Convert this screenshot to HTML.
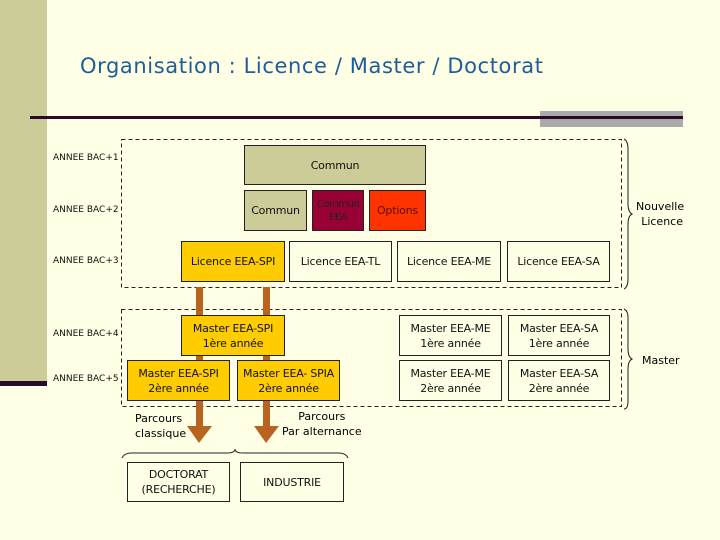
<!DOCTYPE html>
<html><head><meta charset="utf-8"><style>
body{margin:0;width:720px;height:540px;background:#ffffe5;position:relative;overflow:hidden;font-family:"DejaVu Sans","Liberation Sans",sans-serif;}
.a{position:absolute}
.b{position:absolute;box-sizing:border-box;border:1px solid #222;display:flex;align-items:center;justify-content:center;text-align:center;font-size:11px;line-height:15px;color:#111;letter-spacing:-0.2px}
.l{position:absolute;left:53px;font-size:9px;color:#111}
</style></head><body>
<div class="a" style="left:0;top:0;width:47px;height:381px;background:#cccc99"></div>
<div class="a" style="left:0;top:381px;width:47px;height:5px;background:#2a0a2a"></div>
<div class="a" style="left:80px;top:54px;font-size:21px;color:#1f5c99;font-family:'DejaVu Sans',sans-serif;letter-spacing:0.6px;white-space:nowrap">Organisation : Licence / Master / Doctorat</div>
<div class="a" style="left:540px;top:111px;width:143px;height:16px;background:#aaaaaa"></div>
<div class="a" style="left:30px;top:116px;width:653px;height:3px;background:#2a0a2a"></div>
<svg class="a" style="left:0;top:0" width="720" height="540">
<rect x="121.5" y="139.5" width="500" height="148" fill="none" stroke="#222" stroke-dasharray="4,3"/>
<rect x="121.5" y="309.5" width="500" height="97" fill="none" stroke="#222" stroke-dasharray="4,3"/>
<path d="M624 139 q4 2 4 10 v55 q0 8 4 10 q-4 2 -4 10 v55 q0 8 -4 10" fill="none" stroke="#222"/>
<path d="M624 309 q4 2 4 8 v32 q0 8 4 10 q-4 2 -4 10 v32 q0 8 -4 8" fill="none" stroke="#222"/>
<path d="M122 458 q2 -5 10 -5 h95 q8 0 8 -4 q0 4 8 4 h95 q8 0 10 5" fill="none" stroke="#222"/>
<rect x="196" y="287" width="7" height="140" fill="#b8641e"/>
<rect x="263" y="287" width="7" height="140" fill="#b8641e"/>
<polygon points="187,426 212,426 199,443" fill="#b8641e"/>
<polygon points="254,426 279,426 266,443" fill="#b8641e"/>
</svg>
<div class="l" style="top:153px">ANNEE BAC+1</div>
<div class="l" style="top:205px">ANNEE BAC+2</div>
<div class="l" style="top:256px">ANNEE BAC+3</div>
<div class="l" style="top:329px">ANNEE BAC+4</div>
<div class="l" style="top:374px">ANNEE BAC+5</div>
<div class="b" style="left:244px;top:145px;width:182px;height:40px;background:#cccc99">Commun</div>
<div class="b" style="left:244px;top:190px;width:63px;height:41px;background:#cccc99">Commun</div>
<div class="b" style="left:312px;top:190px;width:52px;height:41px;background:#990033;color:#222;font-size:10px;letter-spacing:-0.5px;line-height:13px">Commun<br>EEA</div>
<div class="b" style="left:369px;top:190px;width:57px;height:41px;background:#ff3300;color:#551100">Options</div>
<div class="b" style="left:181px;top:241px;width:104px;height:41px;background:#ffcc00">Licence EEA-SPI</div>
<div class="b" style="left:289px;top:241px;width:103px;height:41px;background:#ffffe5">Licence EEA-TL</div>
<div class="b" style="left:397px;top:241px;width:104px;height:41px;background:#ffffe5">Licence EEA-ME</div>
<div class="b" style="left:507px;top:241px;width:103px;height:41px;background:#ffffe5">Licence EEA-SA</div>
<div class="b" style="left:181px;top:315px;width:104px;height:41px;background:#ffcc00">Master EEA-SPI<br>1ère année</div>
<div class="b" style="left:127px;top:360px;width:103px;height:41px;background:#ffcc00">Master EEA-SPI<br>2ère année</div>
<div class="b" style="left:237px;top:360px;width:103px;height:41px;background:#ffcc00">Master EEA- SPIA<br>2ère année</div>
<div class="b" style="left:399px;top:315px;width:103px;height:41px;background:#ffffe5">Master EEA-ME<br>1ère année</div>
<div class="b" style="left:508px;top:315px;width:102px;height:41px;background:#ffffe5">Master EEA-SA<br>1ère année</div>
<div class="b" style="left:399px;top:360px;width:103px;height:41px;background:#ffffe5">Master EEA-ME<br>2ère année</div>
<div class="b" style="left:508px;top:360px;width:102px;height:41px;background:#ffffe5">Master EEA-SA<br>2ère année</div>
<div class="b" style="left:127px;top:462px;width:103px;height:40px;background:#ffffe5">DOCTORAT<br>(RECHERCHE)</div>
<div class="b" style="left:240px;top:462px;width:104px;height:40px;background:#ffffe5">INDUSTRIE</div>
<div class="a" style="left:135px;top:411px;font-size:11px;line-height:15px">Parcours<br>classique</div>
<div class="a" style="left:282px;top:409px;font-size:11px;line-height:15px;text-align:center">Parcours<br>Par alternance</div>
<div class="a" style="left:636px;top:199px;font-size:11px;line-height:15px;text-align:right;width:47px">Nouvelle<br>Licence</div>
<div class="a" style="left:642px;top:354px;font-size:11px">Master</div>
</body></html>
